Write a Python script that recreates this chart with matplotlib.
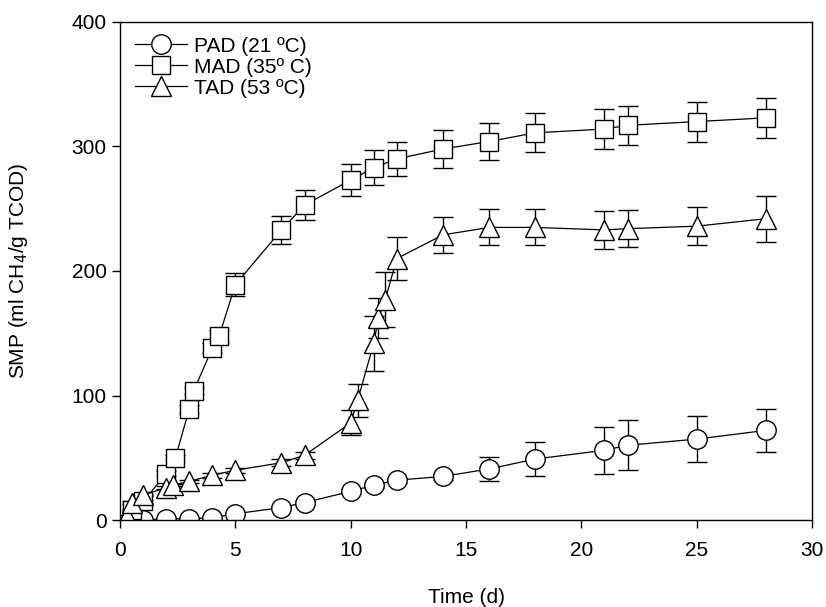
import matplotlib
matplotlib.use("Agg")
import matplotlib.pyplot as plt

plt.rcParams['font.family'] = ['Liberation Sans', 'DejaVu Sans']

# PAD (21 ºC)
pad_t = [1, 2, 3, 4, 5, 7, 8, 10, 11, 12, 14, 16, 18, 21, 22, 25, 28]
pad_y = [0, 1, 1, 2, 5, 10, 14, 23, 28, 32, 35, 41, 49, 56, 60, 65, 72]
pad_e = [0, 0, 0, 0, 1, 1, 1, 2, 2, 2, 3, 9.5, 13.5, 19, 20, 18.5, 17]

# MAD (35º C)
mad_t = [0.5, 1, 2, 2.4, 3, 3.2, 4, 4.3, 5, 7, 8, 10, 11, 12, 14, 16, 18, 21, 22, 25, 28]
mad_y = [8, 15, 37, 50, 89, 104, 138, 148, 189, 233, 253, 273, 283, 290, 298, 304, 311, 314, 317, 320, 323]
mad_e = [1, 1, 2, 2, 3, 3, 4, 5, 9, 11, 12, 13, 14, 14, 15, 15, 15.5, 16, 15.5, 16, 16]

# TAD (53 ºC)
tad_t = [0.3, 0.5, 1, 2, 2.3, 3, 4, 5, 7, 8, 10, 10.3, 11, 11.2, 11.5, 12, 14, 16, 18, 21, 22, 25, 28]
tad_y = [3, 14, 20, 26, 28, 31, 36, 40, 46, 52, 78, 96, 142, 162, 177, 210, 229, 235, 235, 233, 234, 236, 242]
tad_e = [1, 1, 1, 1, 1, 1, 2, 2, 3, 3, 10, 13, 22, 16, 22, 17, 14.5, 14.5, 14.5, 15, 15, 15.5, 18.5]

labels = ['PAD (21 \u00baC)', 'MAD (35\u00ba C)', 'TAD (53 \u00baC)']

fig = plt.figure(figsize=(8.26, 6.07), dpi=100)
ax = fig.add_axes([0.1453, 0.1433, 0.8378, 0.8205])

common = dict(color='black', mfc='white', mec='black', mew=1.0, lw=0.9,
              elinewidth=1.0, capsize=7, capthick=1.0, ecolor='black')
c1 = ax.errorbar(pad_t, pad_y, yerr=pad_e, marker='o', ms=14, label=labels[0], **common)
c2 = ax.errorbar(mad_t, mad_y, yerr=mad_e, marker='s', ms=13, label=labels[1], **common)
c3 = ax.errorbar(tad_t, tad_y, yerr=tad_e, marker='^', ms=14, label=labels[2], **common)

ax.set_xlim(0, 30)
ax.set_ylim(0, 400)
ax.set_xticks([0, 5, 10, 15, 20, 25, 30])
ax.set_yticks([0, 100, 200, 300, 400])
ax.tick_params(direction='out', length=6, width=1, labelsize=15, top=False, right=False)
ax.tick_params(axis='x', pad=9)
for s in ax.spines.values():
    s.set_linewidth(1.0)

ax.set_xlabel('Time (d)', fontsize=15, labelpad=20)
ax.set_ylabel('SMP (ml CH$_4$/g TCOD)', fontsize=15, labelpad=30)

leg = ax.legend([c1[0], c2[0], c3[0]], labels, loc='upper left', frameon=False, fontsize=15,
                handlelength=2.5, labelspacing=0.1, borderaxespad=0.3,
                handletextpad=0.35)

fig.savefig('out.png', dpi=100)
